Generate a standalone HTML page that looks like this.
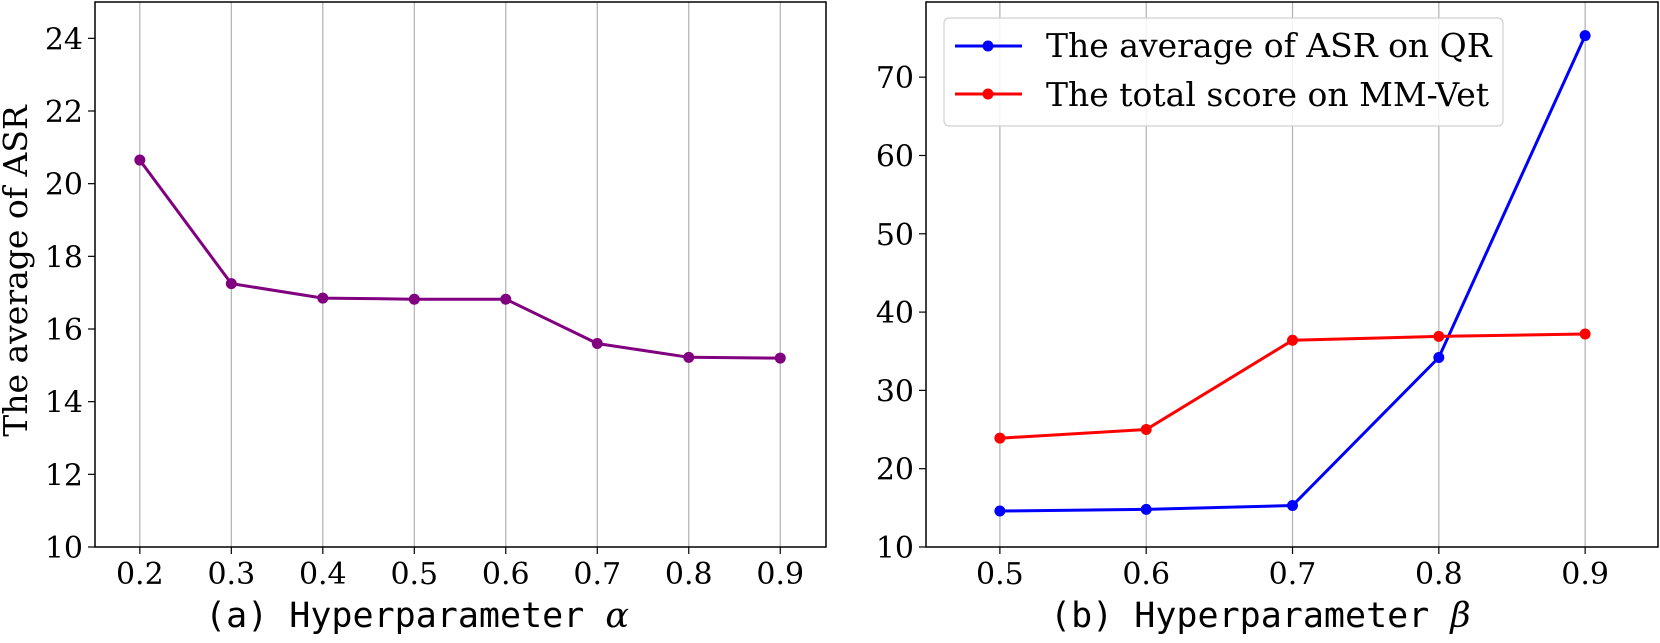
<!DOCTYPE html>
<html><head><meta charset="utf-8"><style>
html,body{margin:0;padding:0;background:#fff;}
svg{display:block;}
text{font-family:"DejaVu Serif","Liberation Serif",serif;fill:#000;}
.mono{font-family:"DejaVu Sans Mono","Liberation Mono",monospace;}
</style></head><body>
<svg id="chart" width="1660" height="643" viewBox="0 0 1660 643"></svg>
<script>
const alphaCats = [0.2, 0.3, 0.4, 0.5, 0.6, 0.7, 0.8, 0.9];
const alphaAsr = [20.65, 17.25, 16.85, 16.82, 16.82, 15.6, 15.22, 15.2];
const leftYTicks = [10, 12, 14, 16, 18, 20, 22, 24];
const betaCats = [0.5, 0.6, 0.7, 0.8, 0.9];
const betaAsrQR = [14.6, 14.8, 15.3, 34.2, 75.3];
const betaMMVet = [23.9, 25.0, 36.4, 36.9, 37.2];
const rightYTicks = [10, 20, 30, 40, 50, 60, 70];

const NS = 'http://www.w3.org/2000/svg';
const svg = document.getElementById('chart');
function mk(tag, attrs, parent) {
  const e = document.createElementNS(NS, tag);
  for (const k in attrs) e.setAttribute(k, attrs[k]);
  (parent || svg).appendChild(e);
  return e;
}
function panel(name, box, xmin, xmax, ymin, ymax, cats, yTicks, xFmt) {
  const g = mk('g', {});
  
  
  const sx = v => box.x0 + (v - xmin) / (xmax - xmin) * (box.x1 - box.x0);
  const sy = v => box.y1 - (v - ymin) / (ymax - ymin) * (box.y1 - box.y0);
  cats.forEach(c => {
    const gl = mk('line', {x1: sx(c), x2: sx(c), y1: box.y0, y2: box.y1, stroke: '#b0b0b0', 'stroke-width': 1.2}, g);
    
    
    const tk = mk('line', {x1: sx(c), x2: sx(c), y1: box.y1, y2: box.y1 + 7, stroke: '#000', 'stroke-width': 1.2}, g);
    
    
    const t = mk('text', {x: sx(c), y: box.y1 + 37, 'text-anchor': 'middle', 'font-size': 30}, g);
    t.textContent = xFmt(c);
    
    
  });
  yTicks.forEach(v => {
    const tk = mk('line', {x1: box.x0 - 7, x2: box.x0, y1: sy(v), y2: sy(v), stroke: '#000', 'stroke-width': 1.2}, g);
    
    
    const t = mk('text', {x: box.x0 - 12, y: sy(v) + 11, 'text-anchor': 'end', 'font-size': 30}, g);
    t.textContent = v;
    
    
  });
  const fr = mk('rect', {x: box.x0, y: box.y0, width: box.x1 - box.x0, height: box.y1 - box.y0, fill: 'none', stroke: '#000', 'stroke-width': 1.5}, g);
  
  
  return {g, sx, sy};
}
function series(p, cats, vals, color, name) {
  const pts = cats.map((c, i) => p.sx(c).toFixed(1) + ',' + p.sy(vals[i]).toFixed(1)).join(' ');
  const pl = mk('polyline', {points: pts, fill: 'none', stroke: color, 'stroke-width': 3}, p.g);
  
  
  cats.forEach((c, i) => {
    const m = mk('circle', {cx: p.sx(c), cy: p.sy(vals[i]), r: 5.5, fill: color}, p.g);
    
    
  });
}
const fmt = v => v.toFixed(1);
const L = panel('left-panel', {x0: 95, x1: 826, y0: 2, y1: 547}, 0.151, 0.950, 10, 25, alphaCats, leftYTicks, fmt);
series(L, alphaCats, alphaAsr, '#800080', 'asr-alpha');
const R = panel('right-panel', {x0: 926, x1: 1658, y0: 2, y1: 547}, 0.4495, 0.9498, 10, 79.6, betaCats, rightYTicks, fmt);
series(R, betaCats, betaAsrQR, '#0000ff', 'asr-qr');
series(R, betaCats, betaMMVet, '#ff0000', 'mmvet');
</script>
<svg style="position:absolute;left:0;top:0" width="1660" height="643">
  <text x="27" y="271" transform="rotate(-90 27 271)" text-anchor="middle" font-size="33">The average of ASR</text>
  <text x="205" y="627" text-anchor="start" font-size="35"><tspan class="mono">(a) Hyperparameter </tspan><tspan font-style="italic">α</tspan></text>
  <text x="1050" y="627" text-anchor="start" font-size="35"><tspan class="mono">(b) Hyperparameter </tspan><tspan font-style="italic">β</tspan></text>
  <g>
    <rect x="944" y="18" width="559" height="108" rx="5" fill="#fff" fill-opacity="0.85" stroke="#d0d0d0" stroke-width="1.2"/>
    <g>
      <line x1="955" x2="1022" y1="46" y2="46" stroke="#0000ff" stroke-width="3"/>
      <circle cx="988" cy="46" r="5.5" fill="#0000ff"/>
      <text x="1046" y="57" font-size="33">The average of ASR on QR</text>
    </g>
    <g>
      <line x1="955" x2="1022" y1="94" y2="94" stroke="#ff0000" stroke-width="3"/>
      <circle cx="988" cy="94" r="5.5" fill="#ff0000"/>
      <text x="1046" y="106" font-size="33">The total score on MM-Vet</text>
    </g>
  </g>
</svg>
</body></html>
